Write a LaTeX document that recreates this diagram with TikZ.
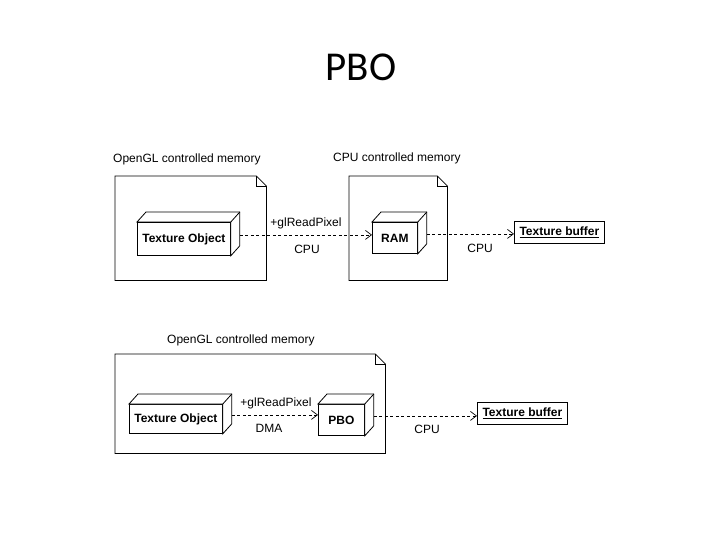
\documentclass[tikz,border=0pt]{standalone}
\usepackage{fontspec}
\setmainfont{Liberation Sans}
\newfontfamily\titlefont{Carlito}
\usetikzlibrary{arrows.meta,calc,backgrounds}
\newcommand\pkgoutline[1]{%
  \draw[line width=0.8pt] (#1.south west) |- ($(#1.north east)+(-10pt,0pt)$) coordinate (#1a)
    -- ($(#1.north east)+(0pt,-10pt)$) coordinate (#1b) |- (#1.south west) -- cycle;
  \draw[line width=0.8pt] (#1a) |- (#1b);}
\newcommand\cubefaces[1]{%
  \draw[line width=0.8pt, fill=white] (#1.north west) -- ++(9pt,10pt)
    -- ($(#1.north east)+(9pt,10pt)$) -- ($(#1.south east)+(9pt,10pt)$)
    -- (#1.south east) -- (#1.north east) -- cycle;
  \draw[line width=0.8pt] (#1.north east) -- ++(9pt,10pt);}
\newcommand\cubeshadow[1]{%
  \fill[black!6] ($(#1.north west)+(4pt,-4pt)$) -- ($(#1.north west)+(13pt,6pt)$)
    -- ($(#1.north east)+(13pt,6pt)$) -- ($(#1.south east)+(13pt,6pt)$)
    -- ($(#1.south east)+(4pt,-4pt)$) -- ($(#1.south west)+(4pt,-4pt)$) -- cycle;}
\newcommand\ulbox[1]{\underline{#1}}
\begin{document}
\begin{tikzpicture}[x=1pt,y=-1pt,
  lbl/.style={font=\fontsize{12}{14}\selectfont, inner sep=0pt},
  pkgbox/.style={inner sep=0pt, anchor=north west},
  cubebox/.style={draw, fill=white, line width=0.8pt, inner sep=0pt, anchor=north west,
    font=\fontsize{12}{14}\selectfont\bfseries},
  artbox/.style={draw, fill=white, line width=0.8pt, inner xsep=0pt, anchor=north west,
    font=\fontsize{12}{14}\selectfont\bfseries, text height=10pt, text depth=3pt,
    inner ysep=4.5pt},
  flow/.style={dash pattern=on 3pt off 2.5pt, line width=0.7pt,
    -{Straight Barb[length=6pt,width=9pt]}},
]
\useasboundingbox (0,0) rectangle (720,540);
\fill[white] (0,0) rectangle (720,540);

\node[font=\titlefont\fontsize{41}{44}\selectfont, inner sep=0pt] (title) at (361,67) {PBO};

% ---------- top diagram ----------
\node[pkgbox, minimum width=151, minimum height=104] (og1) at (115,176) {};
\pkgoutline{og1}
\node[lbl, anchor=base west] (og1l) at (113,163) {OpenGL controlled memory};

\node[pkgbox, minimum width=98, minimum height=104] (cpu1) at (349,176) {};
\pkgoutline{cpu1}
\node[lbl, anchor=base west] (cpu1l) at (333,162) {CPU controlled memory};

\node[cubebox, minimum width=93, minimum height=33] (tex1) at (137,222) {Texture Object};
\cubefaces{tex1}
\node[cubebox, minimum width=45, minimum height=31] (ram1) at (372,222) {RAM};
\cubefaces{ram1}
\node[artbox, minimum width=90] (tb1) at (514,221) {\ulbox{Texture buffer}};

\coordinate (tex1o) at ($(tex1.east)+(9pt,4pt)$);
\coordinate (ram1o) at ($(ram1.east)+(9pt,4pt)$);
\draw[flow] (tex1o) -- (ram1.west |- tex1o);
\draw[flow] (ram1o) -- (tb1.west |- ram1o);
\node[lbl] (a1t) at (306,223) {+glReadPixel};
\node[lbl] (a1b) at (307,249) {CPU};
\node[lbl] (a2b) at (480,248) {CPU};

% ---------- bottom diagram ----------
\node[pkgbox, minimum width=270, minimum height=99] (og2) at (115,354) {};
\pkgoutline{og2}
\node[lbl, anchor=base west] (og2l) at (167,343) {OpenGL controlled memory};

\node[cubebox, minimum width=93, minimum height=29] (tex2) at (129,404) {Texture Object};
\cubefaces{tex2}
\node[cubebox, minimum width=46, minimum height=31] (pbo) at (318,404) {PBO};
\cubefaces{pbo}
\node[artbox, minimum width=90] (tb2) at (477,402) {\ulbox{Texture buffer}};

\coordinate (tex2o) at ($(tex2.east)+(9pt,4pt)$);
\coordinate (pboo) at ($(pbo.east)+(9pt,4pt)$);
\draw[flow] (tex2o) -- (pbo.west |- tex2o);
\draw[flow] (pboo) -- (tb2.west |- pboo);
\node[lbl] (a3t) at (276,403) {+glReadPixel};
\node[lbl] (a3b) at (269,428) {DMA};
\node[lbl] (a4b) at (427,429) {CPU};

% ---------- shadows ----------
\begin{scope}[on background layer]
  \cubeshadow{tex1}
  \cubeshadow{ram1}
  \cubeshadow{tex2}
  \cubeshadow{pbo}
  \fill[black!7] ($(tb1.north west)+(5pt,-5pt)$) rectangle ($(tb1.south east)+(5pt,-5pt)$);
  \fill[black!7] ($(tb2.north west)+(5pt,-5pt)$) rectangle ($(tb2.south east)+(5pt,-5pt)$);
\end{scope}
\end{tikzpicture}
\end{document}
